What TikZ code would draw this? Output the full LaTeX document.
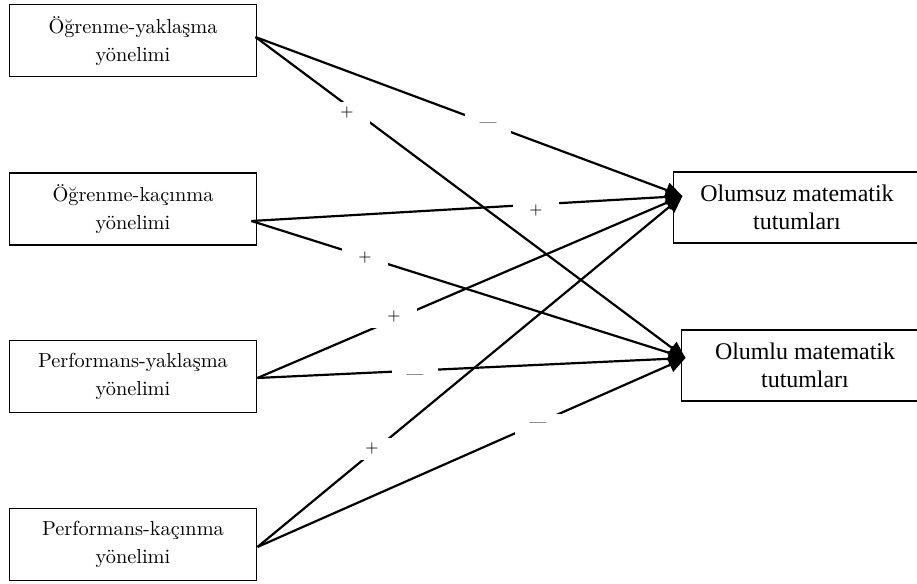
\documentclass[tikz,border=0pt]{standalone}
\usepackage{fontspec}
\newfontfamily\timesfont{Liberation Serif}
\usetikzlibrary{arrows.meta}

\tikzset{
    goalbox/.style = {draw, line width = 0.6pt, minimum width = 4.37cm, minimum height = 1.27cm, align = center, font = \fontsize{10.2}{14}\selectfont},
    attbox/.style = {draw, line width = 0.6pt, minimum width = 4.37cm, minimum height = 1.25cm, align = center, font = \timesfont\fontsize{12}{14}\selectfont},
    path/.style = {line width = 1.1pt, -{Triangle[length = 8.5pt, width = 7.5pt]}},
    sign/.style = {fill = white, minimum width = 0.8cm, minimum height = 0.4cm, inner sep = 0pt, font = \footnotesize}
}

\begin{document}
\begin{tikzpicture}
        \clip (0, 0) rectangle (16.175, 10.301);
        \node (ogy) at (2.346, 9.583) [goalbox] {Öğrenme-yaklaşma\\yönelimi};
        \node (ogk) at (2.346, 6.615) [goalbox] {Öğrenme-kaçınma\\yönelimi};
        \node (pfy) at (2.346, 3.660) [goalbox] {Performans-yaklaşma\\yönelimi};
        \node (pfk) at (2.346, 0.697) [goalbox] {Performans-kaçınma\\yönelimi};
        \node (neg) at (14.058, 6.641) [attbox] {Olumsuz matematik\\tutumları};
        \node (pos) at (14.199, 3.854) [attbox] {Olumlu matematik\\tutumları};
        \coordinate (ogyout) at ([xshift = -0.035cm, yshift = 0.065cm] ogy.east);
        \coordinate (ogkout) at ([xshift = -0.106cm, yshift = -0.212cm] ogk.east);
        \coordinate (pfyout) at ([yshift = -0.026cm] pfy.east);
        \coordinate (pfkout) at ([yshift = -0.044cm] pfk.east);
        \coordinate (negin) at ([xshift = 0.176cm, yshift = 0.203cm] neg.west);
        \coordinate (posin) at ([xshift = 0.088cm, yshift = 0.132cm] pos.west);
        \draw[path] (ogyout) -- (negin);
        \draw[path] (ogyout) -- (posin);
        \draw[path] (ogkout) -- (negin);
        \draw[path] (ogkout) -- (posin);
        \draw[path] (pfyout) -- (negin);
        \draw[path] (pfyout) -- (posin);
        \draw[path] (pfkout) -- (negin);
        \draw[path] (pfkout) -- (posin);
        \node (s1) at (8.608, 8.096) [sign] {---};
        \node (s2) at (6.121, 8.308) [sign] {+};
        \node (s3) at (9.455, 6.579) [sign] {+};
        \node (s4) at (6.438, 5.750) [sign] {+};
        \node (s5) at (6.950, 4.710) [sign] {+};
        \node (s6) at (7.320, 3.651) [sign] {---};
        \node (s7) at (6.562, 2.381) [sign] {+};
        \node (s8) at (9.490, 2.805) [sign] {---};
    \end{tikzpicture}
\end{document}
